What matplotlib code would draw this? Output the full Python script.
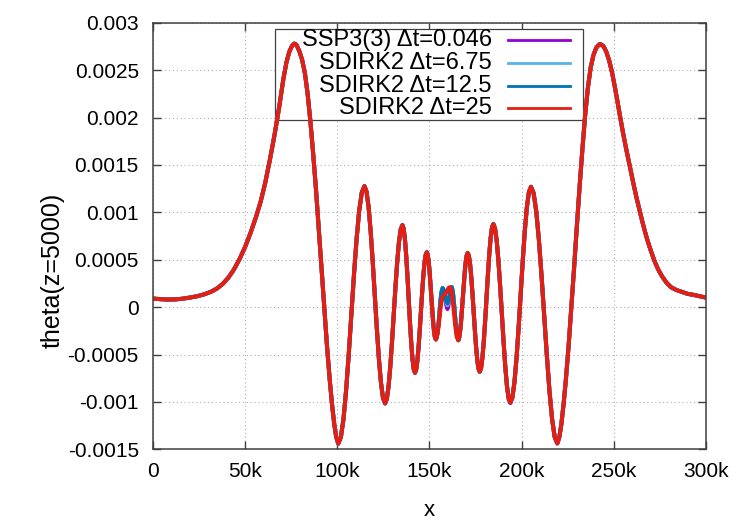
"""
theta(z=5000) entlang x  ·  SSP3(3) vs. SDIRK2 mit verschiedenen Zeitschritten
Werte von der Referenzgrafik abgelesen.
"""

import matplotlib
matplotlib.use("Agg")
import matplotlib.pyplot as plt
from matplotlib.patches import Rectangle
from matplotlib.lines import Line2D
from matplotlib.ticker import MultipleLocator, FuncFormatter

# ------------------------------------------------------------------ Daten (x in km)
# gemeinsamer linker Teil (alle Loesungen praktisch deckungsgleich)
x_left = [0, 4, 8, 12, 16, 20, 24, 28, 32, 35, 38, 41, 44, 47, 50, 53, 56,
          58.5, 61, 63.5, 66, 68.5, 70.8, 72.5, 74, 75.5, 76.8, 78, 79.5, 81,
          82.5, 84, 85.5, 87, 88.5, 90, 91.5, 93, 94.5, 96, 97.2, 98.4, 99.5,
          100.6,
          102.02, 103.44, 104.86, 106.28, 107.7, 109.12, 110.54, 111.96, 113.38,
          114.8, 115.92, 117.04, 118.16, 119.28, 120.4, 121.52, 122.64, 123.76,
          124.88, 126.0, 126.94, 127.88, 128.82, 129.76, 130.7, 131.64, 132.58,
          133.52, 134.46, 135.4, 136.08, 136.76, 137.44, 138.12, 138.8, 139.48,
          140.16, 140.84, 141.52, 142.2, 142.84, 143.48, 144.12, 144.76, 145.4,
          146.04, 146.68, 147.32, 147.96, 148.6, 149.09, 149.58, 150.07,
          150.56, 151.05, 151.54, 152.03, 152.52, 153.01, 153.5]
theta_left = [0.00009, 0.000084, 0.00008, 0.000081, 0.000088, 0.0001, 0.000114,
              0.000135, 0.000165, 0.000198, 0.000245, 0.00031, 0.000395,
              0.000503, 0.00063, 0.00078, 0.00095, 0.00111, 0.00131, 0.00155,
              0.00181, 0.0021, 0.0024, 0.00258, 0.00269, 0.002755, 0.00278,
              0.002765, 0.0027, 0.00261, 0.00247, 0.00225, 0.00196, 0.00162,
              0.00125, 0.00084, 0.00042, 0.0, -0.00041, -0.00077, -0.00102,
              -0.00123, -0.00137, -0.00144,
              -0.001373, -0.001181, -0.00088, -0.000502, -0.000082, 0.000338,
              0.000716, 0.001017, 0.001209, 0.001276,
              0.00122, 0.001057, 0.000804, 0.000484, 0.00013, -0.000224,
              -0.000544, -0.000797, -0.00096, -0.001016,
              -0.00097, -0.000836, -0.000628, -0.000366, -0.000076, 0.000215,
              0.000477, 0.000685, 0.000819, 0.000865,
              0.000827, 0.000716, 0.000544, 0.000327, 0.000086, -0.000155,
              -0.000372, -0.000544, -0.000655, -0.000693,
              -0.000662, -0.000572, -0.000431, -0.000254, -0.000057, 0.000139,
              0.000316, 0.000457, 0.000547, 0.000578,
              0.000556, 0.00049, 0.000389, 0.00026, 0.000118, -0.000023,
              -0.000152, -0.000253, -0.000318, -0.000341]

# Mitte: hier unterscheiden sich die Verfahren
x_mid_dt25 = [154.0, 154.6, 155.3, 156.2, 157.0, 157.8, 158.6, 159.5, 160.3,
              161.0, 161.7, 162.4, 163.2, 164.0, 164.8, 165.6]
theta_mid_dt25 = [-0.00032, -0.00026, -0.00015, 0.00001, 0.0001, 0.00013,
                  0.00014, 0.00016, 0.0002, 0.00021, 0.00019, 0.00011,
                  -0.00003, -0.00019, -0.00031, -0.00035]

x_mid_fine = [154.0, 154.6, 155.3, 156.0, 156.6, 157.2, 157.8, 158.5, 159.2,
              159.8, 160.4, 161.0, 161.6, 162.2, 162.8, 163.5, 164.3, 165.0,
              165.8]
theta_mid_ssp3 = [-0.00032, -0.00025, -0.00011, 0.00006, 0.00016, 0.0002,
                  0.00018, 0.00011, 0.00002, -0.00002, 0.00002, 0.00011,
                  0.00019, 0.00021, 0.00015, 0.00001, -0.00018, -0.0003,
                  -0.00035]
theta_mid_dt675 = [-0.00032, -0.00025, -0.00011, 0.00006, 0.00016, 0.0002,
                   0.00018, 0.00012, 0.00005, 0.00002, 0.00005, 0.00012,
                   0.00019, 0.00021, 0.00015, 0.00001, -0.00018, -0.0003,
                   -0.00035]
theta_mid_dt125 = [-0.00032, -0.00025, -0.00011, 0.00006, 0.00016, 0.0002,
                   0.00018, 0.00012, 0.00006, 0.00004, 0.00007, 0.00013,
                   0.00019, 0.00021, 0.00015, 0.00001, -0.00018, -0.0003,
                   -0.00035]

# gemeinsamer rechter Teil
x_right = [166.12, 166.64, 167.16, 167.68, 168.2, 168.72, 169.24, 169.76,
           170.28, 170.8, 171.45, 172.1, 172.75, 173.4, 174.05, 174.7, 175.35,
           176.0, 176.65, 177.3, 178.04, 178.78, 179.52, 180.26, 181.0,
           181.74, 182.48, 183.22, 183.96, 184.7, 185.62, 186.54, 187.46,
           188.38, 189.3, 190.22, 191.14, 192.06, 192.98, 193.9, 195.02,
           196.14, 197.26, 198.38, 199.5, 200.62, 201.74, 202.86, 203.98,
           205.1, 206.53, 207.96, 209.39, 210.82, 212.25, 213.68, 215.11,
           216.54, 217.97, 219.4,
           220.5, 221.6, 222.8, 224, 225.5, 227, 228.5, 230, 231.5, 233, 234.5,
           236, 237.5, 239, 240.5, 242, 243, 244.5, 246, 247.5, 249, 250.5,
           252, 253.5, 255, 256.5, 258, 259.5, 261, 262.5, 264, 265.5, 267,
           268.5, 270, 272, 274, 276, 278.5, 281, 284, 287, 290, 293, 296.5,
           300]
theta_right = [-0.000328, -0.000262, -0.00016, -0.000032, 0.00011, 0.000252,
               0.00038, 0.000482, 0.000547, 0.00057,
               0.000539, 0.00045, 0.000312, 0.000137, -0.000056, -0.000249,
               -0.000424, -0.000562, -0.000651, -0.000682,
               -0.000644, -0.000533, -0.000361, -0.000144, 0.000097, 0.000338,
               0.000555, 0.000727, 0.000838, 0.000876,
               0.00083, 0.000696, 0.000487, 0.000224, -0.000067, -0.000358,
               -0.000621, -0.00083, -0.000964, -0.00101,
               -0.000954, -0.000792, -0.00054, -0.000223, 0.00013, 0.000482,
               0.000799, 0.001051, 0.001213, 0.001269,
               0.001203, 0.00101, 0.000711, 0.000334, -0.000085, -0.000503,
               -0.00088, -0.00118, -0.001372, -0.001438,
               -0.00137, -0.00123, -0.00102, -0.00077, -0.00041, 0.0, 0.00042,
               0.00086, 0.00128, 0.00167, 0.00203, 0.00232, 0.00253, 0.00266,
               0.002735, 0.00277, 0.002772, 0.00275, 0.00269, 0.0026, 0.00248,
               0.00233, 0.00217, 0.002, 0.00184, 0.00169, 0.00155, 0.00141,
               0.00127, 0.00114, 0.00102, 0.0009, 0.00079, 0.00069, 0.0006,
               0.00049, 0.0004, 0.00033, 0.00026, 0.00021, 0.00018, 0.00016,
               0.00014, 0.00013, 0.000115, 0.0001]

labels = ["SSP3(3) \u0394t=0.046", "SDIRK2 \u0394t=6.75",
          "SDIRK2 \u0394t=12.5", "SDIRK2 \u0394t=25"]
colors = ["#9400D3", "#56B4E9", "#0072B2", "#E51E10"]

# ------------------------------------------------------------------ Layout
FONT = "Liberation Sans"
W, H = 747, 523
AX_L, AX_R, AX_T, AX_B = 152.7, 706.0, 22.7, 449.3   # Pixel


def series():
    mids = [(x_mid_fine, theta_mid_ssp3), (x_mid_fine, theta_mid_dt675),
            (x_mid_fine, theta_mid_dt125), (x_mid_dt25, theta_mid_dt25)]
    for xm, tm in mids:
        xs = [v * 1000 for v in x_left + xm + x_right]
        yield xs, theta_left + tm + theta_right


def draw_key(ax):
    # gnuplot-Key: Text rechtsbuendig, Linienmuster rechts daneben
    ax.add_patch(Rectangle((0.221, 0.772), 0.557, 0.2132, transform=ax.transAxes,
                           facecolor="white", edgecolor="#404040", lw=0.9,
                           zorder=1))
    rows = [0.9595, 0.9048, 0.8516, 0.7993]
    for lab, col, yy in zip(labels, colors, rows):
        ax.text(0.6127, yy, lab, transform=ax.transAxes, ha="right",
                va="center", fontsize=17, family=[FONT, "DejaVu Sans"],
                zorder=5)
        ax.add_line(Line2D([0.6422, 0.7543], [yy, yy], transform=ax.transAxes,
                           color=col, lw=2.0, zorder=5))


def main():
    fig = plt.figure(figsize=(W / 100, H / 100), dpi=100)
    ax = fig.add_axes([AX_L / W, 1 - AX_B / H, (AX_R - AX_L) / W,
                       (AX_B - AX_T) / H])

    for (xs, ys), col in zip(series(), colors):
        ax.plot(xs, ys, color=col, lw=2.9, zorder=2, solid_joinstyle="round")

    ax.set_xlim(0, 300000)
    ax.set_ylim(-0.0015, 0.003)
    ax.xaxis.set_major_locator(MultipleLocator(50000))
    ax.yaxis.set_major_locator(MultipleLocator(0.0005))
    ax.xaxis.set_major_formatter(FuncFormatter(
        lambda v, p: "0" if v == 0 else f"{v / 1000:g}k"))
    ax.yaxis.set_major_formatter(FuncFormatter(lambda v, p: f"{round(v, 6):g}"))

    ax.tick_params(direction="in", length=6, width=1.0, color="#404040",
                   top=True, right=True, labelsize=15)
    ax.tick_params(axis="x", pad=9)
    ax.tick_params(axis="y", pad=10)
    for t in ax.get_xticklabels() + ax.get_yticklabels():
        t.set_family(FONT)
    for s in ax.spines.values():
        s.set_color("#404040")
        s.set_linewidth(1.1)

    ax.set_axisbelow(True)
    ax.grid(True, color="#b0b0b0", lw=0.8, ls=(0, (1, 2.5)))

    ax.set_xlabel("x", fontsize=16, family=FONT)
    ax.set_ylabel("theta(z=5000)", fontsize=18, family=FONT)
    ax.xaxis.set_label_coords(0.5, -0.118)
    ax.yaxis.set_label_coords(-0.16, 0.42)

    draw_key(ax)
    fig.savefig("out.png", dpi=100)
    plt.close(fig)


if __name__ == "__main__":
    main()
